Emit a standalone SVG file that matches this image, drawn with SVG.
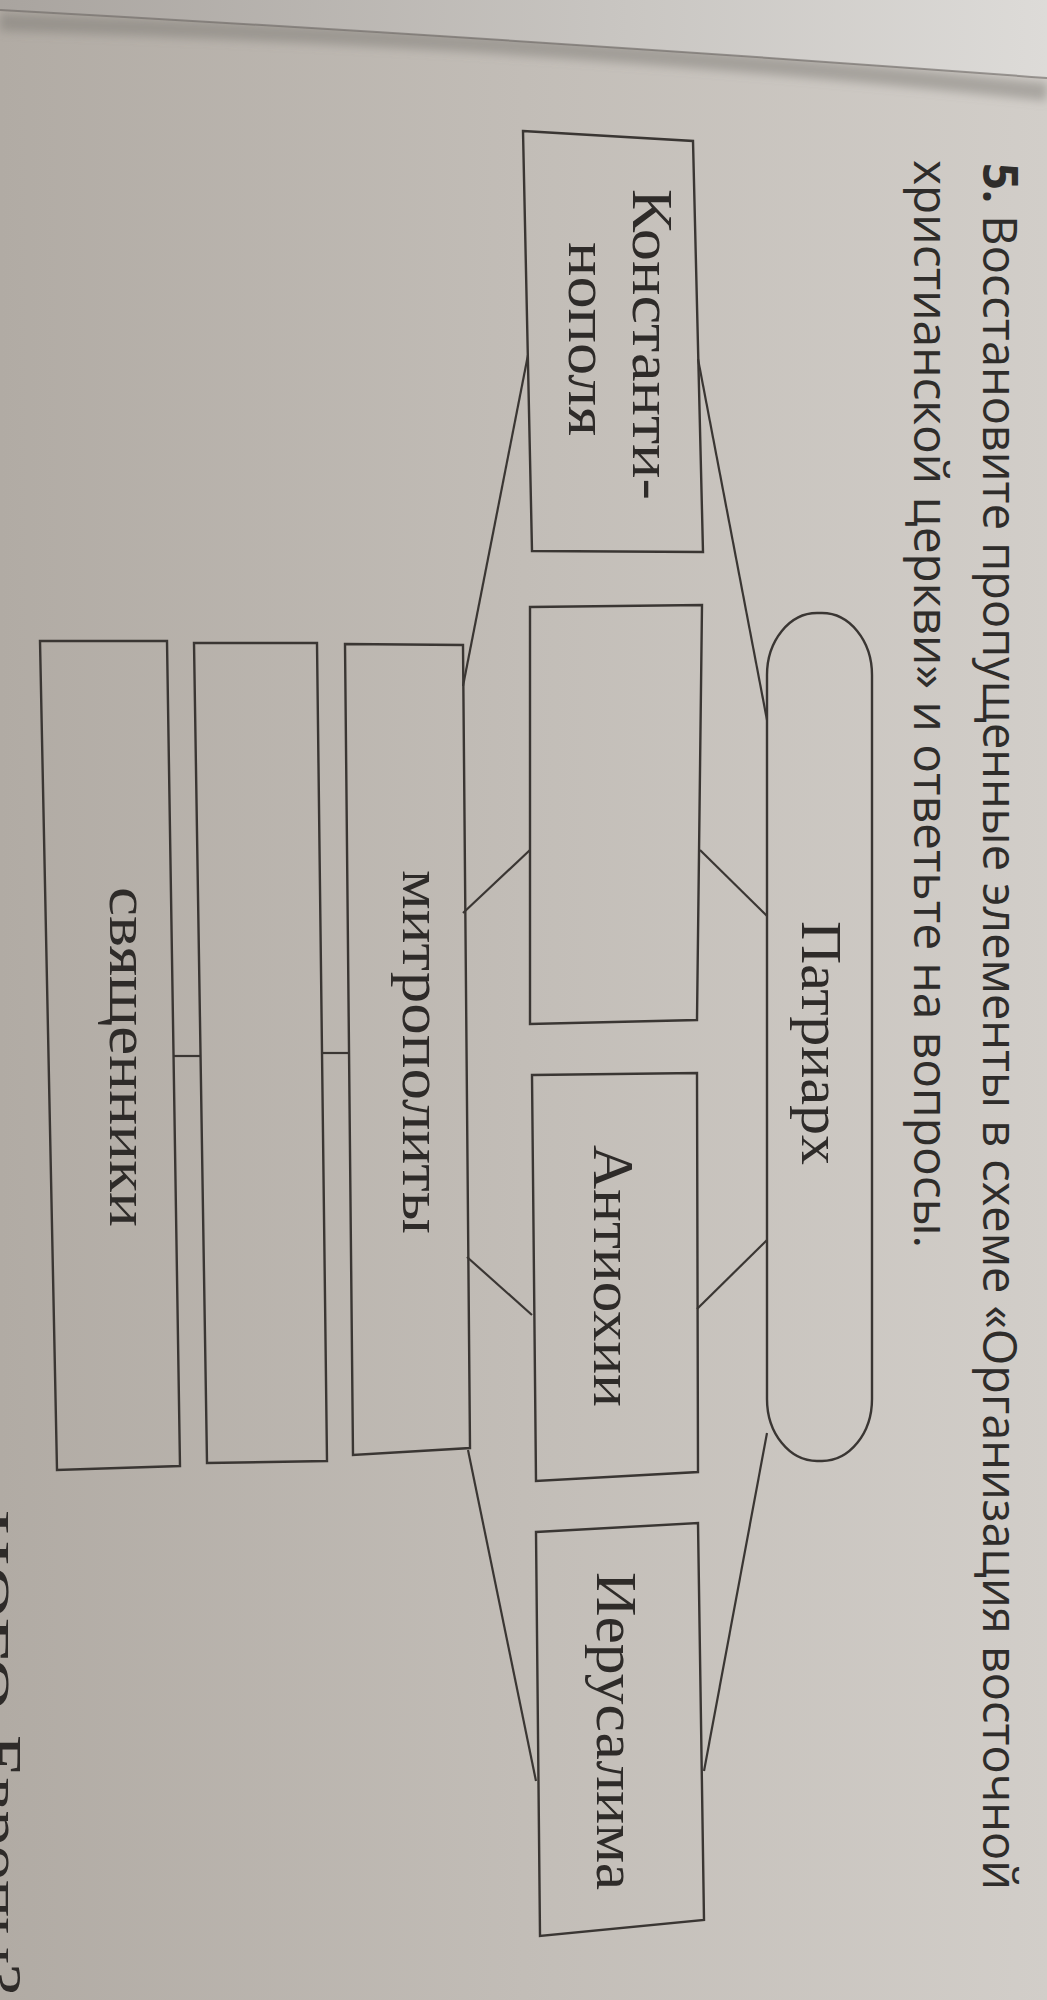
<svg xmlns="http://www.w3.org/2000/svg" width="1047" height="2000" viewBox="0 0 1047 2000">
<defs>
<linearGradient id="bg" x1="0" y1="0" x2="1" y2="0">
<stop offset="0" stop-color="#b1aba4"/>
<stop offset="0.5" stop-color="#c2bdb7"/>
<stop offset="1" stop-color="#d2cec9"/>
</linearGradient>
<linearGradient id="beyond" x1="0" y1="0" x2="1" y2="0">
<stop offset="0" stop-color="#a9a49f"/>
<stop offset="0.6" stop-color="#c9c6c2"/>
<stop offset="1" stop-color="#dddbd8"/>
</linearGradient>
<filter id="blur" x="-10%" y="-200%" width="120%" height="500%">
<feGaussianBlur stdDeviation="5"/>
</filter>
</defs>
<style>
.box{fill:none;stroke:#3a3633;stroke-width:2.4;stroke-linejoin:miter}
.conn line{stroke:#3a3633;stroke-width:2.2;fill:none}
.lbl{font-family:"Liberation Serif","Times New Roman",serif;font-size:58px;fill:#2e2b29}
.title{font-family:"Open Sans","Noto Sans","Liberation Sans",sans-serif;font-size:48px;fill:#2f2d2b}
</style>
<rect x="0" y="0" width="1047" height="2000" fill="url(#bg)"/>
<path d="M0,22 C300,32 600,45 1047,92" fill="none" stroke="#77736f" stroke-width="18" stroke-opacity="0.45" filter="url(#blur)"/>
<path d="M0,0 L1047,0 L1047,78 C700,52 400,32 0,10 Z" fill="url(#beyond)"/>
<path d="M0,10 C400,32 700,52 1047,78" fill="none" stroke="#6a6662" stroke-width="2" stroke-opacity="0.6"/>

<g id="title">
<text class="title" transform="translate(983,163) rotate(90)" textLength="1727" lengthAdjust="spacingAndGlyphs"><tspan font-weight="bold">5.</tspan> Восстановите пропущенные элементы в схеме «Организация восточной</text>
<text class="title" transform="translate(914,160) rotate(90)" textLength="1088" lengthAdjust="spacingAndGlyphs">христианской церкви» и ответьте на вопросы.</text>
</g>

<g id="connectors" class="conn">
<line x1="528" y1="355" x2="463" y2="686"/>
<line x1="698" y1="359" x2="767" y2="720"/>
<line x1="530" y1="850" x2="463" y2="913"/>
<line x1="700" y1="850" x2="767" y2="916"/>
<line x1="532" y1="1315" x2="467" y2="1257"/>
<line x1="697" y1="1309" x2="767" y2="1240"/>
<line x1="468" y1="1450" x2="536" y2="1781"/>
<line x1="767" y1="1433" x2="704" y2="1771"/>
<line x1="174" y1="1056" x2="200" y2="1056"/>
<line x1="322" y1="1053" x2="349" y2="1053"/>
</g>

<g id="patriarch">
<rect class="box" x="767" y="613" width="105" height="848" rx="50" ry="62"/>
<text class="lbl" transform="translate(802,921) rotate(90)" textLength="244" lengthAdjust="spacingAndGlyphs">Патриарх</text>
</g>

<g id="constantinople">
<polygon class="box" points="523,131 693,141 703,552 532,551"/>
<text class="lbl" transform="translate(633,189) rotate(90)" textLength="311" lengthAdjust="spacingAndGlyphs">Константи-</text>
<text class="lbl" transform="translate(569,242) rotate(90)" textLength="194" lengthAdjust="spacingAndGlyphs">нополя</text>
</g>

<g id="empty-patriarchate">
<polygon class="box" points="530,607 702,605 697,1020 530,1024"/>
</g>

<g id="antioch">
<polygon class="box" points="532,1075 697,1073 698,1472 536,1481"/>
<text class="lbl" transform="translate(594,1145) rotate(90)" textLength="262" lengthAdjust="spacingAndGlyphs">Антиохии</text>
</g>

<g id="jerusalem">
<polygon class="box" points="536,1532 698,1523 704,1920 540,1936"/>
<text class="lbl" transform="translate(597,1572) rotate(90)" textLength="318" lengthAdjust="spacingAndGlyphs">Иерусалима</text>
</g>

<g id="metropolitans">
<polygon class="box" points="345,644 463,645 470,1448 353,1455"/>
<text class="lbl" transform="translate(403,870) rotate(90)" textLength="364" lengthAdjust="spacingAndGlyphs">митрополиты</text>
</g>

<g id="empty-rank">
<polygon class="box" points="194,643 317,643 327,1461 207,1463"/>
</g>

<g id="priests">
<polygon class="box" points="40,641 167,641 180,1466 57,1470"/>
<text class="lbl" transform="translate(110,887) rotate(90)" textLength="340" lengthAdjust="spacingAndGlyphs">священники</text>
</g>

<g id="cut-text">
<text class="lbl" font-size="62" transform="translate(-18,1510) rotate(90)" textLength="200" lengthAdjust="spacingAndGlyphs">ного</text>
<text class="lbl" font-size="62" transform="translate(-18,1735) rotate(90)" textLength="260" lengthAdjust="spacingAndGlyphs">Европы?</text>
</g>
</svg>
